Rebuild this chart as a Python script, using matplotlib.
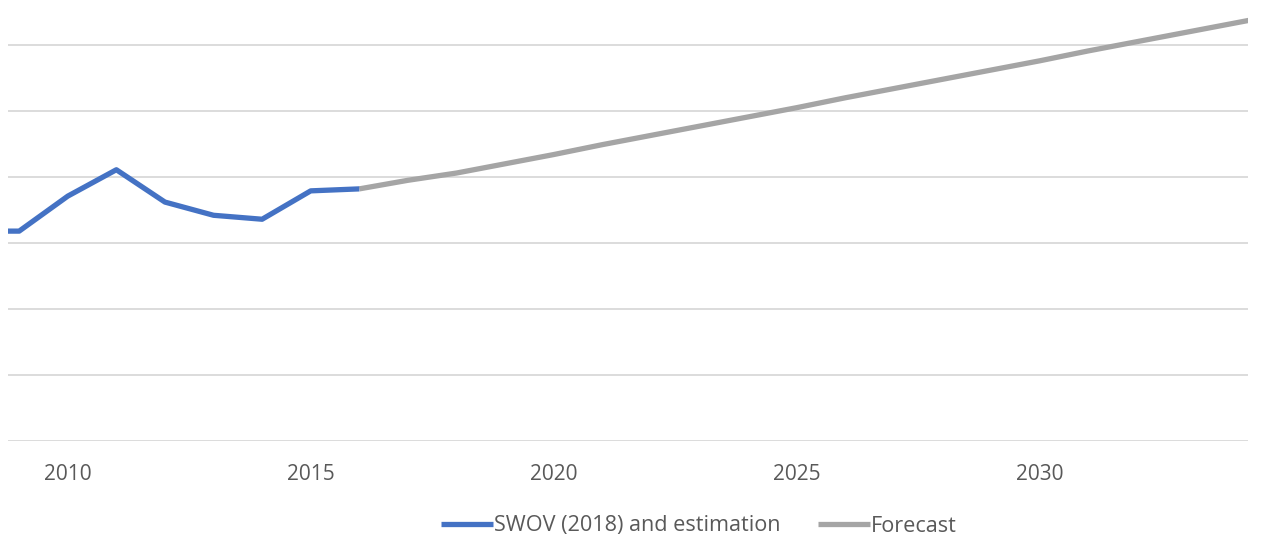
import matplotlib.pyplot as plt
from matplotlib.ticker import MultipleLocator

plt.rcParams['font.family'] = ['Open Sans', 'DejaVu Sans']

# observed / estimated series
years_obs = [2008, 2009, 2010, 2011, 2012, 2013, 2014, 2015, 2016]
vals_obs = [318, 318, 371, 411, 362, 342, 336, 379, 382]

# forecast series, starts at the last observed year
years_fc = [2016, 2017, 2018, 2019, 2020, 2021, 2022, 2023, 2024, 2025,
            2026, 2027, 2028, 2029, 2030, 2031, 2032, 2033, 2034, 2035]
vals_fc = [382, 395, 406, 420, 434, 449, 463, 477, 491, 505,
           520, 534, 548, 562, 576, 591, 605, 619, 633, 647]

blue = '#4472C4'
grey = '#A5A5A5'
text_c = '#595959'

fig = plt.figure(figsize=(12.62, 5.43), dpi=100)
ax = fig.add_axes([8 / 1262, 1 - 441 / 543, 1240 / 1262, 441 / 543])

ax.plot(years_obs, vals_obs, color=blue, lw=3.8, solid_capstyle='butt',
        label='SWOV (2018) and estimation', zorder=3)
ax.plot(years_fc, vals_fc, color=grey, lw=3.8, solid_capstyle='butt',
        label='Forecast', zorder=2)

ax.set_xlim(2008.77, 2034.29)
ax.set_ylim(0, 441 / 66 * 100)

ax.yaxis.set_major_locator(MultipleLocator(100))
ax.xaxis.set_major_locator(MultipleLocator(5))
ax.grid(axis='y', color='#D9D9D9', lw=1.3)
ax.set_axisbelow(True)
for s in ax.spines.values():
    s.set_visible(False)
ax.tick_params(axis='y', left=False, labelleft=False)
ax.tick_params(axis='x', bottom=False, labelsize=15, labelcolor=text_c, pad=13)

fig.legend(loc='center', bbox_to_anchor=(699 / 1262, 1 - 526 / 543), ncol=2,
           frameon=False, fontsize=15.6, labelcolor=text_c,
           handlelength=2.4, handletextpad=0.05, columnspacing=1.75)

fig.savefig('out.png', dpi=100)
